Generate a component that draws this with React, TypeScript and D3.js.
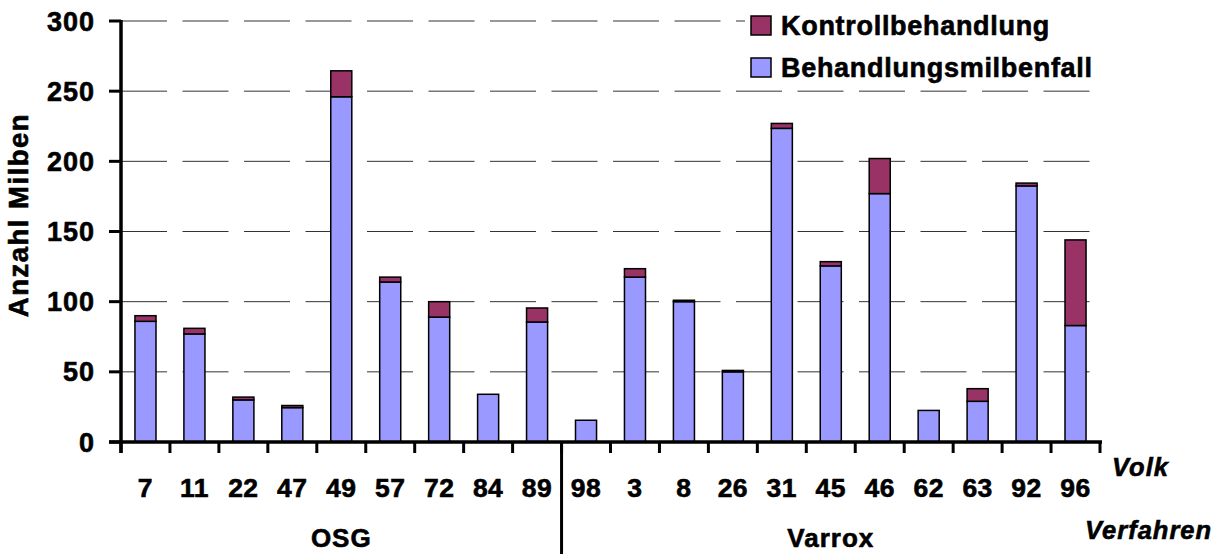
import React from "react";
import * as d3 from "d3";

const categories = ["7", "11", "22", "47", "49", "57", "72", "84", "89", "98", "3", "8", "26", "31", "45", "46", "62", "63", "92", "96"];
const behandlungsmilbenfall = [86, 77, 30, 24.5, 246, 114, 89, 34, 85.5, 15.5, 117.5, 100, 50, 223.5, 125.5, 177, 22.5, 29, 182.5, 83];
const kontrollbehandlung = [4, 4, 2, 1.5, 18.5, 3.5, 11, 0, 10, 0, 6, 1, 1, 3.5, 3, 25, 0, 9, 2, 61];
const groups = [
  { name: "OSG", count: 9 },
  { name: "Varrox", count: 11 },
];
const yTicks = [0, 50, 100, 150, 200, 250, 300];
const seriesNames = ["Kontrollbehandlung", "Behandlungsmilbenfall"];

const W = 1223;
const H = 554;
const FONT = "'Liberation Sans', Arial, Helvetica, sans-serif";
const BLUE = "#9999FF";
const MAROON = "#993366";
const TS = { stroke: "#000", strokeWidth: 0.6 } as const;

export default function App() {
  const left = 121;
  const right = 1100;
  const top = 21;
  const bottom = 442;

  const xSlot = d3.scaleBand<string>().domain(categories).range([left, right]).padding(0);
  const xBar = d3
    .scaleBand<string>()
    .domain(categories)
    .range([left, right])
    .paddingInner(0.57)
    .paddingOuter(0.285);
  const y = d3.scaleLinear().domain([0, 300]).range([bottom, top]);
  const step = xSlot.step();

  const rows = categories.map((c, i) => ({
    cat: c,
    beh: behandlungsmilbenfall[i],
    kon: kontrollbehandlung[i],
  }));
  const stacked = d3.stack<any>().keys(["beh", "kon"])(rows);
  const colors: Record<string, string> = { beh: BLUE, kon: MAROON };

  let acc = 0;
  const groupInfo = groups.map((g) => {
    const startX = left + acc * step;
    acc += g.count;
    const endX = left + acc * step;
    return { ...g, startX, endX, mid: (startX + endX) / 2 };
  });

  const tickXs = d3.range(categories.length + 1).map((i) => left + i * step);

  return (
    <svg width={W} height={H} style={{ display: "block", position: "absolute", left: 0, top: 0 }}>
      <rect x={0} y={0} width={W} height={H} fill="#fff" />
      {yTicks
        .filter((t) => t > 0)
        .map((t) => (
          <line
            key={"g" + t}
            x1={left}
            x2={right}
            y1={y(t)}
            y2={y(t)}
            stroke="#333"
            strokeWidth={1}
            strokeDasharray="46 15.5"
          />
        ))}
      <rect x={745} y={4} width={370} height={80} fill="#fff" />
      {stacked.map((s) => (
        <g key={s.key}>
          {s.map((d, i) =>
            d[1] - d[0] > 0 ? (
              <rect
                key={i}
                x={xBar(categories[i])!}
                width={xBar.bandwidth()}
                y={y(d[1])}
                height={y(d[0]) - y(d[1])}
                fill={colors[s.key]}
                stroke="#000"
                strokeWidth={1.5}
              />
            ) : null
          )}
        </g>
      ))}
      <line x1={left} x2={left} y1={top - 1} y2={bottom + 11} stroke="#000" strokeWidth={3.5} />
      {yTicks.map((t) => (
        <g key={"yt" + t}>
          <line x1={left - 12} x2={left} y1={y(t)} y2={y(t)} stroke="#000" strokeWidth={3} />
          <text
            x={95}
            y={y(t) + 9.5}
            textAnchor="end"
            fontFamily={FONT}
            fontWeight="bold"
            fontSize={27}
            letterSpacing={1}
            fill="#000"
            {...TS}
          >
            {t}
          </text>
        </g>
      ))}
      <line x1={left - 12} x2={right + 2} y1={bottom} y2={bottom} stroke="#000" strokeWidth={3.5} />
      {tickXs.map((tx, i) => (
        <line key={"xt" + i} x1={tx} x2={tx} y1={bottom} y2={bottom + 11} stroke="#000" strokeWidth={3} />
      ))}
      {groupInfo.slice(0, -1).map((g) => (
        <line key={"sep" + g.name} x1={g.endX} x2={g.endX} y1={bottom} y2={H} stroke="#000" strokeWidth={3} />
      ))}
      {categories.map((c) => (
        <text
          key={"cl" + c}
          x={xSlot(c)! + step / 2}
          y={497}
          textAnchor="middle"
          fontFamily={FONT}
          fontWeight="bold"
          fontSize={26.5}
          letterSpacing={0.5}
          fill="#000"
          {...TS}
        >
          {c}
        </text>
      ))}
      {groupInfo.map((g) => (
        <text
          key={"gl" + g.name}
          x={g.mid}
          y={547}
          textAnchor="middle"
          fontFamily={FONT}
          fontWeight="bold"
          fontSize={26}
          letterSpacing={1}
          fill="#000"
          {...TS}
        >
          {g.name}
        </text>
      ))}
      <text x={1112} y={476} fontFamily={FONT} fontWeight="bold" fontStyle="italic" fontSize={25.5} letterSpacing={1} fill="#000" {...TS}>
        Volk
      </text>
      <text x={1085} y={539} fontFamily={FONT} fontWeight="bold" fontStyle="italic" fontSize={25.5} letterSpacing={1} fill="#000" {...TS}>
        Verfahren
      </text>
      <text
        transform="translate(28,215) rotate(-90)"
        textAnchor="middle"
        fontFamily={FONT}
        fontWeight="bold"
        fontSize={27.5}
        letterSpacing={1.5}
        fill="#000"
        {...TS}
      >
        Anzahl Milben
      </text>
      {seriesNames.map((n, i) => (
        <g key={"lg" + n} transform={`translate(751,${16 + i * 42})`}>
          <rect x={0} y={0} width={20} height={19} fill={i === 0 ? MAROON : BLUE} stroke="#000" strokeWidth={1.5} />
          <text x={30} y={18.5} fontFamily={FONT} fontWeight="bold" fontSize={27} letterSpacing={0.7} fill="#000" {...TS}>
            {n}
          </text>
        </g>
      ))}
    </svg>
  );
}
